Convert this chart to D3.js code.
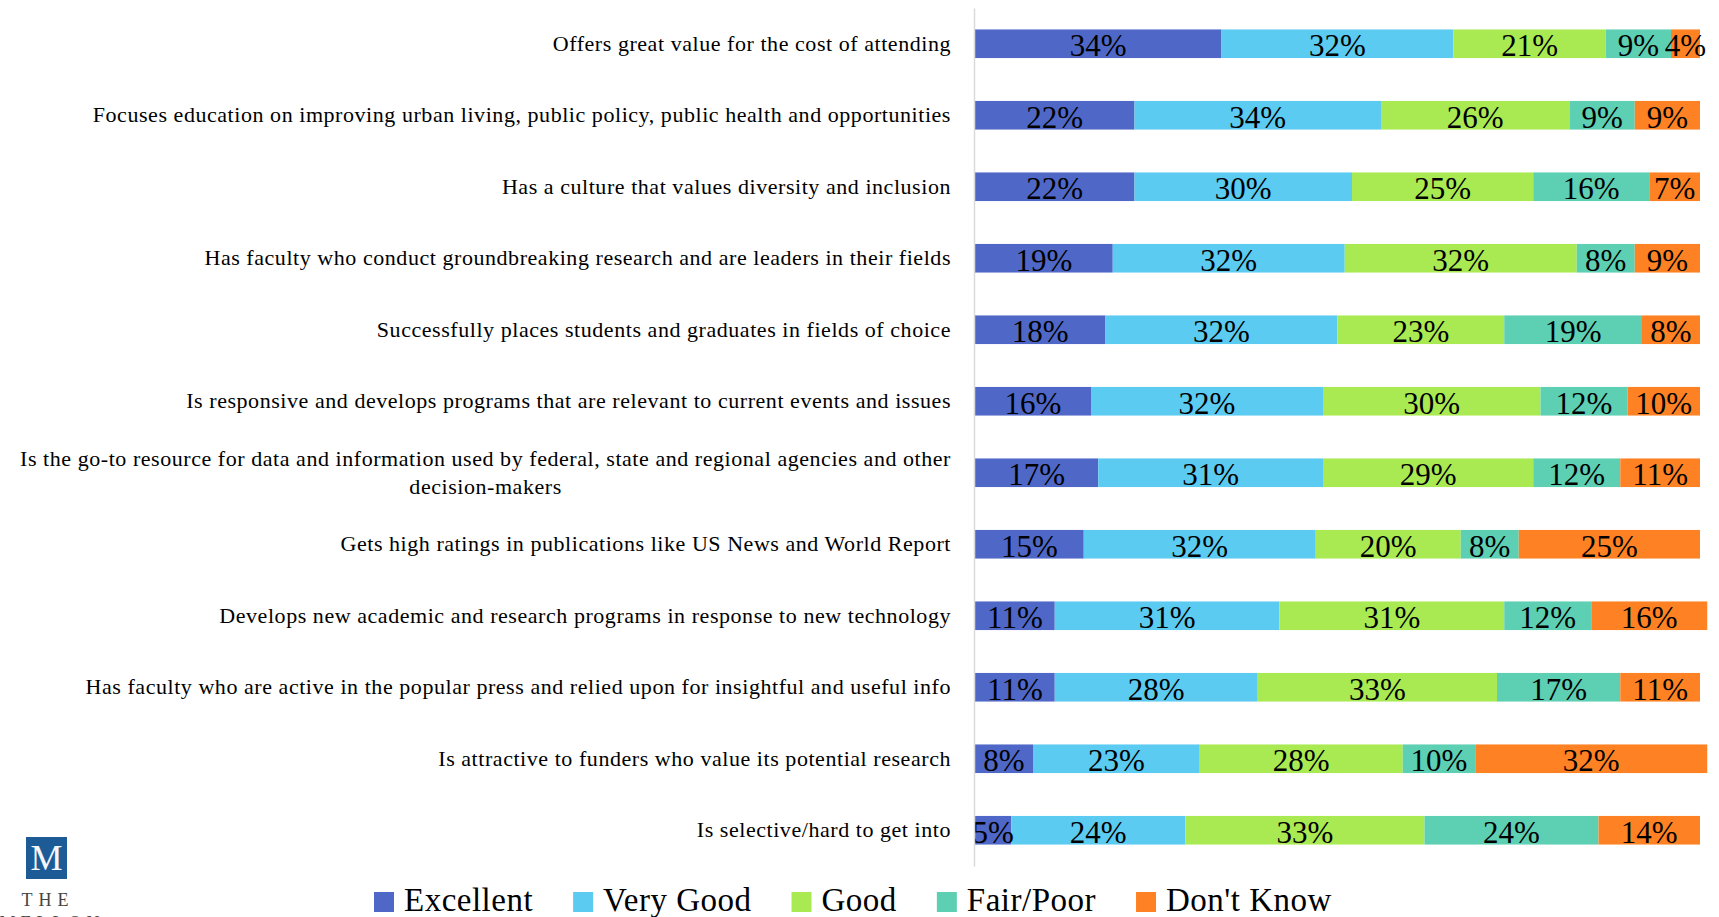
<!DOCTYPE html>
<html>
<head>
<meta charset="utf-8">
<script src="https://cdn.jsdelivr.net/npm/d3@7"></script>
<style>
  body { margin: 0; background: #fff; }
  svg { display: block; }
  text { font-family: "Liberation Serif", "Times New Roman", serif; fill: #000; }
</style>
</head>
<body>
<svg id="chart" width="1719" height="917"></svg>
<script>
// Survey statements, top to bottom
const categories = [
  "Offers great value for the cost of attending",
  "Focuses education on improving urban living, public policy, public health and opportunities",
  "Has a culture that values diversity and inclusion",
  "Has faculty who conduct groundbreaking research and are leaders in their fields",
  "Successfully places students and graduates in fields of choice",
  "Is responsive and develops programs that are relevant to current events and issues",
  "Is the go-to resource for data and information used by federal, state and regional agencies and other decision-makers",
  "Gets high ratings in publications like US News and World Report",
  "Develops new academic and research programs in response to new technology",
  "Has faculty who are active in the popular press and relied upon for insightful and useful info",
  "Is attractive to funders who value its potential research",
  "Is selective/hard to get into"
];

const seriesNames = ["Excellent", "Very Good", "Good", "Fair/Poor", "Don't Know"];

// Share of respondents (%) per rating
const excellent = [34, 22, 22, 19, 18, 16, 17, 15, 11, 11, 8, 5];
const veryGood  = [32, 34, 30, 32, 32, 32, 31, 32, 31, 28, 23, 24];
const good      = [21, 26, 25, 32, 23, 30, 29, 20, 31, 33, 28, 33];
const fairPoor  = [ 9,  9, 16,  8, 19, 12, 12,  8, 12, 17, 10, 24];
const dontKnow  = [ 4,  9,  7,  9,  8, 10, 11, 25, 16, 11, 32, 14];

const seriesValues = [excellent, veryGood, good, fairPoor, dontKnow];
const colors = ["#4f68c8", "#5ccbf1", "#a9ea52", "#5dcfb3", "#fe8224"];

const svg = d3.select("#chart");

// Rows for the stack layout
const rows = categories.map((c, i) => {
  const r = { category: c };
  seriesNames.forEach((s, k) => { r[s] = seriesValues[k][i]; });
  return r;
});
const stacked = d3.stack().keys(seriesNames)(rows);

const x = d3.scaleLinear().domain([0, 100]).range([975, 1700]);
const y = d3.scaleBand().domain(categories).range([8, 866])
  .paddingInner(0.6).paddingOuter(0.3);
const color = d3.scaleOrdinal().domain(seriesNames).range(colors);

// Bars
const layers = svg.append("g").selectAll("g")
  .data(stacked)
  .join("g")
  .attr("fill", d => color(d.key));

layers.selectAll("rect")
  .data(d => d)
  .join("rect")
  .attr("x", d => x(d[0]))
  .attr("y", d => y(d.data.category))
  .attr("width", d => x(d[1]) - x(d[0]))
  .attr("height", y.bandwidth());

// Value labels centred in each segment
const labels = svg.append("g")
  .attr("text-anchor", "middle")
  .style("font-size", "31px");
stacked.forEach(layer => {
  labels.append("g").selectAll("text")
    .data(layer)
    .join("text")
    .attr("x", d => (x(d[0]) + x(d[1])) / 2)
    .attr("y", d => y(d.data.category) + y.bandwidth() / 2)
    .attr("dy", "0.4em")
    .text(d => (d[1] - d[0]) + "%");
});

// Category axis
const axisX = 974;
const axis = svg.append("g")
  .attr("transform", `translate(${axisX},0)`)
  .call(d3.axisLeft(y).tickSize(0).tickSizeOuter(0).tickPadding(23));
axis.select(".domain").attr("stroke", "#d9d9d9").attr("stroke-width", 1.5);
axis.selectAll(".tick text")
  .style("font-size", "22px")
  .style("letter-spacing", "0.55px")
  .style("font-family", '"Liberation Serif", serif')
  .attr("fill", "#000")
  .attr("dy", "0.32em");

// Wrap long statements onto centred lines, block kept right-aligned
const maxLabelWidth = 960;
axis.selectAll(".tick text").each(function() {
  const t = d3.select(this);
  const words = t.text().split(/\s+/);
  t.text(null);
  const lines = [];
  let line = [];
  const probe = t.append("tspan");
  words.forEach(w => {
    line.push(w);
    probe.text(line.join(" "));
    if (probe.node().getComputedTextLength() > maxLabelWidth && line.length > 1) {
      line.pop();
      lines.push(line.join(" "));
      line = [w];
    }
  });
  lines.push(line.join(" "));
  probe.remove();
  if (lines.length === 1) {
    t.text(lines[0]);
    return;
  }
  const widths = lines.map(l => {
    const s = t.append("tspan").text(l);
    const w = s.node().getComputedTextLength();
    s.remove();
    return w;
  });
  const blockW = d3.max(widths);
  const cx = -23 - blockW / 2;
  const lh = 28;
  t.attr("text-anchor", "middle").attr("x", cx).attr("dy", null);
  const y0 = +t.attr("y") || 0;
  lines.forEach((l, i) => {
    t.append("tspan")
      .attr("x", cx)
      .attr("y", y0 + (i - (lines.length - 1) / 2) * lh)
      .attr("dy", "0.32em")
      .text(l);
  });
});

// Legend
const legend = svg.append("g").attr("transform", "translate(374,892)");
let lx = 0;
seriesNames.forEach((s, i) => {
  const item = legend.append("g").attr("transform", `translate(${lx},0)`);
  item.append("rect").attr("width", 20).attr("height", 20).attr("fill", color(s));
  const txt = item.append("text")
    .attr("x", 30)
    .attr("y", 19)
    .style("font-size", "33px")
    .style("letter-spacing", "0.5px")
    .text(s);
  lx += 30 + txt.node().getComputedTextLength() + 40;
});

// Foundation mark, bottom left
const logo = svg.append("g");
logo.append("rect")
  .attr("x", 26).attr("y", 837).attr("width", 41).attr("height", 42)
  .attr("fill", "#1d5b97");
logo.append("text")
  .attr("x", 46.5).attr("y", 870)
  .attr("text-anchor", "middle")
  .style("font-size", "36px")
  .style("fill", "#f4f6fa")
  .text("M");
logo.append("text")
  .attr("x", 48).attr("y", 906)
  .attr("text-anchor", "middle")
  .style("font-size", "18px")
  .style("letter-spacing", "6px")
  .style("fill", "#444")
  .text("THE");
logo.append("text")
  .attr("x", 52).attr("y", 929)
  .attr("text-anchor", "middle")
  .style("font-size", "18px")
  .style("letter-spacing", "5px")
  .style("fill", "#444")
  .text("MELLON");
</script>
</body>
</html>
